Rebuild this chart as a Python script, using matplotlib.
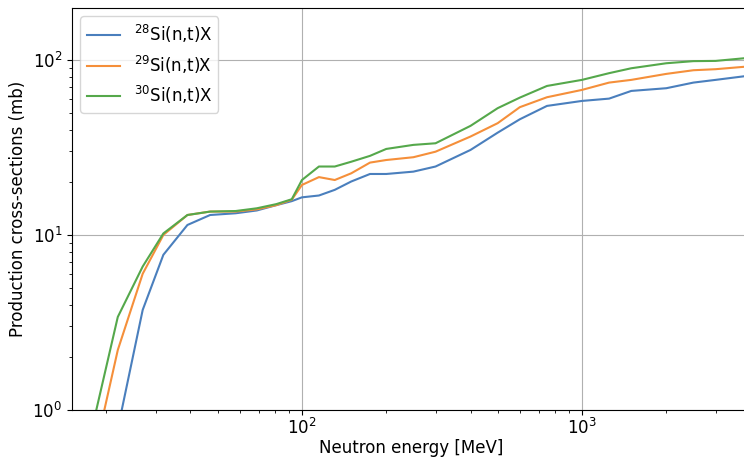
# Production cross-sections of tritium from Si isotopes vs neutron energy
import matplotlib
matplotlib.use('Agg')
import matplotlib.pyplot as plt

energy = [17, 22, 27, 32, 39, 47, 58, 69, 81, 92, 100, 115, 131, 150, 175,
          200, 250, 300, 400, 500, 600, 750, 1000, 1250, 1500, 2000, 2500, 3000, 4000]

si28 = [0.1, 0.78, 3.73, 7.7, 11.4, 13.0, 13.3, 13.8, 14.8, 15.6, 16.4, 16.8, 18.1, 20.2, 22.3,
        22.3, 23.0, 24.6, 30.6, 38.4, 45.8, 54.6, 58.3, 60.1, 66.5, 68.9, 74.2, 76.9, 81.5]
si29 = [0.35, 2.2, 6.0, 10.0, 13.0, 13.6, 13.6, 14.0, 14.8, 15.9, 19.3, 21.4, 20.6, 22.5, 25.9,
        26.8, 27.8, 29.9, 36.5, 43.5, 53.7, 61.2, 67.4, 74.2, 76.9, 83.2, 87.3, 88.5, 92.0]
si30 = [0.57, 3.4, 6.6, 10.2, 13.0, 13.6, 13.7, 14.2, 15.0, 16.0, 20.6, 24.6, 24.6, 26.2, 28.3,
        31.0, 32.7, 33.4, 42.0, 53.0, 60.9, 71.0, 76.9, 84.0, 89.6, 95.7, 98.4, 98.7, 103.0]

labels = [r'$^{28}$Si(n,t)X', r'$^{29}$Si(n,t)X', r'$^{30}$Si(n,t)X']

plt.rcParams.update({'font.size': 12})

fig = plt.figure(figsize=(7.44, 4.59), dpi=100)
# axes run a little past the right edge, as in the cropped original
ax = fig.add_axes([0.0968, 0.1068, 0.912, 0.8758])

ax.plot(energy, si28, label=labels[0], color='#4a7fbd')
ax.plot(energy, si29, label=labels[1], color='#f58f3a')
ax.plot(energy, si30, label=labels[2], color='#55a84b')

ax.set_xscale('log')
ax.set_yscale('log')
ax.set_xlim(15.1, 4000)
ax.set_ylim(1, 198)

ax.tick_params(axis='x', which='major', pad=2)
ax.grid(True, which='major', color='#b0b0b0', linewidth=0.8)
ax.set_xlabel('Neutron energy [MeV]', labelpad=1)
ax.set_ylabel('Production cross-sections (mb)')
ax.legend(loc='upper left', fontsize=12)

plt.savefig('out.png', dpi=100)
